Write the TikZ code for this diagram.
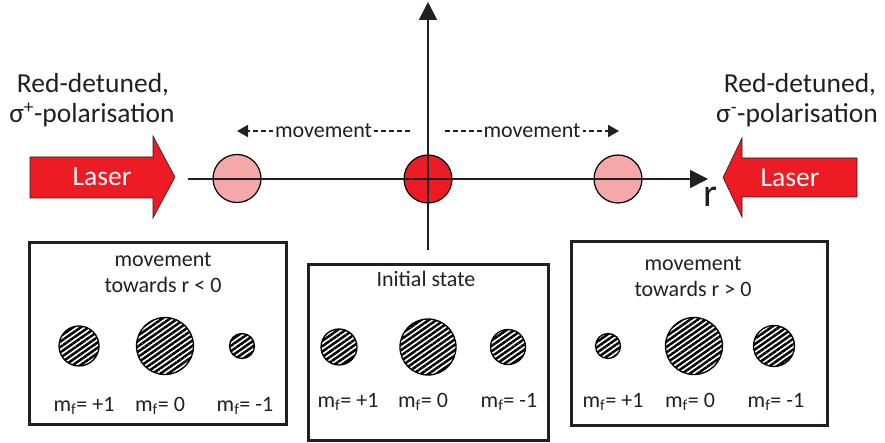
\documentclass[tikz,border=0pt]{standalone}
\usepackage{fontspec}
\setmainfont{Carlito}
\usetikzlibrary{arrows.meta,patterns.meta}
\definecolor{laserred}{RGB}{237,28,36}
\definecolor{pinkfill}{RGB}{244,168,170}
\definecolor{txt}{RGB}{35,31,32}
\tikzset{
 bigtext/.style={font=\fontsize{27.5}{32}\selectfont, text=txt, inner sep=0pt},
 smalltext/.style={font=\fontsize{22}{26}\selectfont, text=txt, inner sep=0pt},
 atom/.style={circle, draw=black, line width=1.3pt, inner sep=0pt,
   pattern={Lines[angle=35,distance=4.4pt,line width=2.5pt]}},
 cloud/.style={circle, draw=black, line width=1.2pt, inner sep=0pt, minimum size=48pt},
 axisline/.style={line width=1.6pt, draw=txt, -{Triangle[length=18pt,width=18pt]}},
 moveline/.style={line width=1.8pt, draw=txt, dash pattern=on 5pt off 3pt, -{Triangle[length=11pt,width=12pt]}},
 panel/.style={draw=txt, line width=3pt, inner sep=0pt},
 laserarrow/.style={fill=laserred, draw=txt, line width=0.6pt},
}
\begin{document}
\begin{tikzpicture}[x=1pt,y=-1pt]
\useasboundingbox (0,0) rectangle (885,443);

% laser arrows
\draw[laserarrow] (30,157) -- (153,157) -- (153,136) -- (175,177) -- (153,218) -- (153,198) -- (30,198) -- cycle;
\node[bigtext, text=white] (laserL) at (102,177) {Laser};
\draw[laserarrow] (857,158) -- (742,158) -- (742,138) -- (723,177.5) -- (742,217) -- (742,197) -- (857,197) -- cycle;
\node[bigtext, text=white] (laserR) at (790,177.5) {Laser};

% top-side labels
\node[bigtext, anchor=base] (redL) at (93,93) {Red-detuned,};
\node[bigtext, anchor=base] (polL) at (92,123) {σ\textsuperscript{+}-polarisation};
\node[bigtext, anchor=base] (redR) at (800,93) {Red-detuned,};
\node[bigtext, anchor=base] (polR) at (797,123) {σ\textsuperscript{-}-polarisation};

% atom clouds on axis
\node[cloud, fill=pinkfill] (cL) at (237,178.5) {};
\node[cloud, fill=laserred] (cC) at (428,179) {};
\node[cloud, fill=pinkfill] (cR) at (618,179) {};

% axes
\coordinate (vB) at (428,250);
\coordinate (vT) at (428,2);
\coordinate (hL) at (188,179);
\coordinate (hR) at (708,179);
\draw[axisline] (vB) -- (vT);
\draw[axisline] (hL) -- (hR);
\node[font=\fontsize{40}{44}\selectfont, text=txt, inner sep=0pt, anchor=base] (rlab) at (710,207) {r};

% movement arrows
\coordinate (mLs) at (410,131);
\coordinate (mLe) at (237,131);
\coordinate (mRs) at (445,131);
\coordinate (mRe) at (619,131);
\draw[moveline] (mLs) -- (mLe) node[midway, fill=white, smalltext, inner xsep=2pt, inner ysep=0pt] (mvL) {movement};
\draw[moveline] (mRs) -- (mRe) node[midway, fill=white, smalltext, inner xsep=2pt, inner ysep=0pt] (mvR) {movement};

% panels
\node[panel, minimum width=257pt, minimum height=181pt] (boxL) at (157.5,333.5) {};
\node[panel, minimum width=240pt, minimum height=175pt] (boxC) at (428,352.5) {};
\node[panel, minimum width=256pt, minimum height=183pt] (boxR) at (699,333.5) {};

% left panel
\node[smalltext, anchor=base] (tL1) at (163,267) {movement};
\node[smalltext, anchor=base] (tL2) at (163,293) {towards r < 0};
\node[atom, minimum size=40pt] (aL1) at (79,346) {};
\node[atom, minimum size=57pt] (aL0) at (165,346) {};
\node[atom, minimum size=25pt] (aLm) at (242,346) {};
\node[smalltext, anchor=base] (lL1) at (84,411) {m\textsubscript{f}= +1};
\node[smalltext, anchor=base] (lL0) at (160,411) {m\textsubscript{f}= 0};
\node[smalltext, anchor=base] (lLm) at (245,411) {m\textsubscript{f}= -1};

% centre panel
\node[smalltext, anchor=base] (tC) at (426,287) {Initial state};
\node[atom, minimum size=36pt] (aC1) at (339,347) {};
\node[atom, minimum size=56pt] (aC0) at (428,347) {};
\node[atom, minimum size=35pt] (aCm) at (508,347) {};
\node[smalltext, anchor=base] (lC1) at (348,407) {m\textsubscript{f}= +1};
\node[smalltext, anchor=base] (lC0) at (423,407) {m\textsubscript{f}= 0};
\node[smalltext, anchor=base] (lCm) at (509,407) {m\textsubscript{f}= -1};

% right panel
\node[smalltext, anchor=base] (tR1) at (693,271) {movement};
\node[smalltext, anchor=base] (tR2) at (693,297) {towards r > 0};
\node[atom, minimum size=25pt] (aR1) at (608,346) {};
\node[atom, minimum size=57pt] (aR0) at (694,346) {};
\node[atom, minimum size=41pt] (aRm) at (774,346) {};
\node[smalltext, anchor=base] (lR1) at (613,407) {m\textsubscript{f}= +1};
\node[smalltext, anchor=base] (lR0) at (690,407) {m\textsubscript{f}= 0};
\node[smalltext, anchor=base] (lRm) at (776,407) {m\textsubscript{f}= -1};
\end{tikzpicture}
\end{document}
